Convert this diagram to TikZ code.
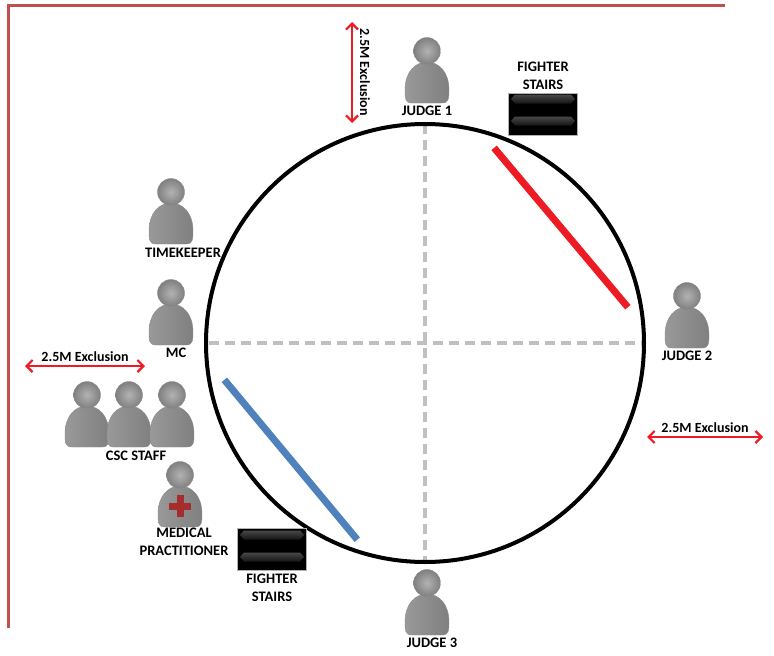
\documentclass[tikz,border=0pt]{standalone}
\usepackage{fontspec}
\setmainfont{Carlito}
\usetikzlibrary{positioning,arrows.meta,calc}
\definecolor{framered}{RGB}{192,80,77}
\definecolor{cornerred}{RGB}{237,28,36}
\definecolor{cornerblue}{RGB}{79,129,189}
\definecolor{crossred}{RGB}{165,45,45}
\definecolor{dashgray}{RGB}{192,192,192}
\tikzstyle{ring layout}=[
    x=1pt,y=-1pt,node distance=3pt,
    every node/.style={
        align=center,inner sep=0pt,text=black,
        font=\bfseries\fontsize{14.5}{18}\selectfont,
    },
]
\tikzstyle{icon}=[minimum width=44pt,minimum height=66pt]
\tikzstyle{stairbox}=[fill=black,draw=gray!60,line width=0.6pt,minimum width=69pt,minimum height=42pt]
\tikzstyle{exclusion}=[{Straight Barb[length=6pt,width=12pt]}-{Straight Barb[length=6pt,width=12pt]},cornerred,line width=2.2pt]
\tikzstyle{exclusion text}=[font=\bfseries\fontsize{14}{14}\selectfont]
\tikzstyle{corner}=[line width=7pt]
\newcommand{\person}[2]{%
    \node[icon] (#1) at (#2) {};
    \begin{scope}[shift={(#2)}]
        \shade[left color=gray!80,right color=gray,draw=gray!90,line width=0.4pt]
            (-15,33) .. controls (-22,33) and (-22,28) .. (-22,20)
            .. controls (-22,2) and (-12,-8) .. (0,-8)
            .. controls (12,-8) and (22,2) .. (22,20)
            .. controls (22,28) and (22,33) .. (15,33) -- cycle;
        \shade[inner color=gray!60,outer color=gray,draw=gray!90,line width=0.4pt] (0,-19) circle (13.5);
    \end{scope}
}
\newcommand{\stairs}[3]{%
    \node[stairbox] (#1) at (#2) {};
    \begin{scope}[shift={(#2)}]
        \foreach \dy in {#3}
            \shade[top color=black!72,bottom color=black!92]
                (-32,\dy) -- (-28,\dy-4.5) -- (28,\dy-4.5) -- (32,\dy) -- (28,\dy+4.5) -- (-28,\dy+4.5) -- cycle;
    \end{scope}
}

\begin{document}
\begin{tikzpicture}[ring layout]
    \useasboundingbox (0,0) rectangle (774,656);

    \coordinate (frame bottom) at (8,628);
    \coordinate (frame corner) at (8,5);
    \coordinate (frame end) at (725,5);
    \draw[framered,line width=3pt] (frame bottom) -- (frame corner) -- (frame end);

    \node[circle,minimum size=438pt] (ring) at (425,343) {};
    \draw[dashgray,line width=3.5pt,dash pattern=on 10pt off 6pt,shorten <=3pt,shorten >=3pt]
        (ring.north) -- (ring.south)
        (ring.west) -- (ring.east);
    \draw[line width=4pt] (ring.center) circle (219);

    \coordinate (red a) at ($(ring.center)+(-70.5:207)$);
    \coordinate (red b) at ($(ring.center)+(-10:206)$);
    \coordinate (blue a) at ($(ring.center)+(169.6:204)$);
    \coordinate (blue b) at ($(ring.center)+(109:208)$);
    \draw[corner,cornerred] (red a) -- (red b);
    \draw[corner,cornerblue] (blue a) -- (blue b);

    \person{j1}{427,70}
    \person{j2}{687,315}
    \person{j3}{427,602}
    \person{tk}{171,211}
    \person{mc}{171,312}
    \person{csc1}{87,414}
    \person{csc2}{129,414}
    \person{csc3}{172,414}
    \person{medic}{180,494}
    \fill[crossred] ([shift={(-3.5,1)}]medic.center) rectangle ([shift={(3.5,23)}]medic.center);
    \fill[crossred] ([shift={(-11,8.5)}]medic.center) rectangle ([shift={(11,15.5)}]medic.center);

    \node[below=of j1] (j1 label) {JUDGE 1};
    \node[below=of j2] (j2 label) {JUDGE 2};
    \node[below=of j3, xshift=5pt] (j3 label) {JUDGE 3};
    \node[below=4pt of tk, xshift=12pt] (tk label) {TIMEKEEPER};
    \node[below=of mc, xshift=5pt] (mc label) {MC};
    \node[below=4pt of csc2, xshift=7pt] (csc label) {CSC STAFF};
    \node[below=1pt of medic, xshift=4pt] (medic label) {MEDICAL\\PRACTITIONER};

    \stairs{stairs top}{543,114}{-15,7}
    \stairs{stairs bottom}{272,549}{-14,8}
    \node[above=of stairs top] (stairs top label) {FIGHTER\\STAIRS};
    \node[below=of stairs bottom] (stairs bottom label) {FIGHTER\\STAIRS};

    \coordinate (ex1 a) at (352,22);
    \coordinate (ex1 b) at (352,123);
    \coordinate (ex2 a) at (25,366);
    \coordinate (ex2 b) at (145,366);
    \coordinate (ex3 a) at (647,437);
    \coordinate (ex3 b) at (763,437);
    \draw[exclusion] (ex1 a) -- (ex1 b);
    \node[exclusion text,rotate=-90] (ex1 label) at (365,72) {2.5M Exclusion};
    \draw[exclusion] (ex2 a) -- node[exclusion text,above=3pt] (ex2 label) {2.5M Exclusion} (ex2 b);
    \draw[exclusion] (ex3 a) -- node[exclusion text,above=3pt] (ex3 label) {2.5M Exclusion} (ex3 b);
\end{tikzpicture}
\end{document}
